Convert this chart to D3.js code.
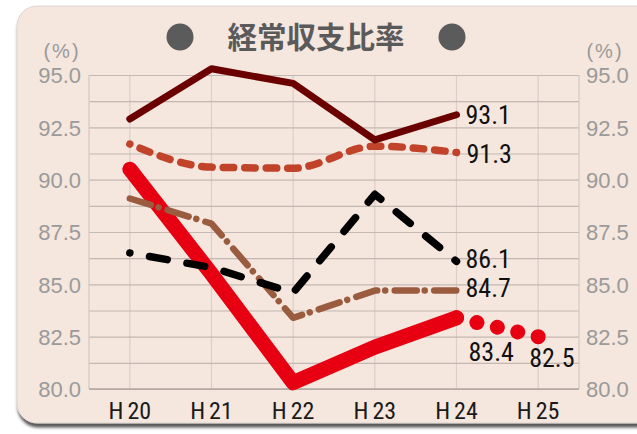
<!DOCTYPE html>
<html>
<head>
<meta charset="utf-8">
<script src="https://cdn.jsdelivr.net/npm/d3@7"></script>
<style>
  html, body { margin: 0; padding: 0; background: #ffffff; }
  svg { display: block; }
</style>
</head>
<body>
<svg id="chart" width="637" height="434"></svg>
<script>
// Fiscal years (Heisei) and the ratio series, in percent
const categories = ["H20", "H21", "H22", "H23", "H24", "H25"];
const yTickValues = [80, 82.5, 85, 87.5, 90, 92.5, 95];
const gridValues = [80, 81.25, 82.5, 83.75, 85, 86.25, 87.5, 88.75, 90, 91.25, 92.5, 93.75, 95];

const maroonValues = [92.9, 95.3, 94.6, 91.9, 93.1];
const orangeValues = [91.7, 90.6, 90.55, 91.6, 91.3];
const brownValues  = [89.1, 87.9, 83.4, 84.7, 84.7];
const blackValues  = [86.5, 85.8, 84.6, 89.3, 86.1];
const redValues    = [90.5, 85.5, 80.3, 82.0, 83.4];
const redForecastValues = [83.4, 82.5];          // H24 -> H25 (projection)
const redForecastCategories = ["H24", "H25"];

const titleText = "経常収支比率";
const unitText = "(%)";

const svg = d3.select("#chart");
const defs = svg.append("defs");

// soft shadow under the card
const shadow = defs.append("filter").attr("id", "cardShadow")
  .attr("x", "-5%").attr("y", "-5%").attr("width", "110%").attr("height", "115%");
shadow.append("feDropShadow")
  .attr("dx", 1).attr("dy", 4).attr("stdDeviation", 1.6)
  .attr("flood-color", "#3a3a3a").attr("flood-opacity", 0.85);

// card background
svg.append("rect")
  .attr("x", 17).attr("y", 6).attr("width", 640).attr("height", 417)
  .attr("rx", 20).attr("ry", 20)
  .attr("fill", "#f5e6de")
  .attr("stroke", "#dcd6d3").attr("stroke-width", 1)
  .attr("filter", "url(#cardShadow)");

// title with the two bullet dots
const title = svg.append("g");
title.append("text")
  .attr("x", 316).attr("y", 48)
  .attr("text-anchor", "middle")
  .attr("font-family", "'Noto Sans CJK JP', sans-serif")
  .attr("font-weight", 700)
  .attr("font-size", 29.5)
  .attr("fill", "#5a5a5a")
  .text(titleText);
[180, 452].forEach(px => title.append("circle")
  .attr("cx", px).attr("cy", 37).attr("r", 13.5).attr("fill", "#5b5b5b"));

// plot frame
const plotLeft = 89, plotRight = 579, plotTop = 75, plotBottom = 389;
const x = d3.scaleBand().domain(categories).range([plotLeft, plotRight]).padding(0);
const cx = c => x(c) + x.bandwidth() / 2;
const y = d3.scaleLinear().domain([80, 95]).range([plotBottom, plotTop]);

const plot = svg.append("g");

// vertical grid at each category
plot.append("g")
  .attr("transform", `translate(0,${plotBottom})`)
  .call(d3.axisBottom(x).tickSize(-(plotBottom - plotTop)).tickFormat(""))
  .call(g => g.select(".domain").remove())
  .call(g => g.selectAll(".tick line").attr("stroke", "#dccfc7").attr("stroke-width", 1.2));

// horizontal grid every 1.25 points
plot.append("g")
  .attr("transform", `translate(${plotLeft},0)`)
  .call(d3.axisLeft(y).tickValues(gridValues).tickSize(-(plotRight - plotLeft)).tickFormat(""))
  .call(g => g.select(".domain").remove())
  .call(g => g.selectAll(".tick line").attr("stroke", "#c4b8b2").attr("stroke-width", 1.2));

// plot edges
plot.append("line").attr("x1", plotLeft).attr("x2", plotLeft).attr("y1", plotTop).attr("y2", plotBottom)
  .attr("stroke", "#d4c8c1").attr("stroke-width", 1.2);
plot.append("line").attr("x1", plotRight).attr("x2", plotRight).attr("y1", plotTop).attr("y2", plotBottom)
  .attr("stroke", "#d4c8c1").attr("stroke-width", 1.2);
plot.append("line").attr("x1", plotLeft).attr("x2", plotRight).attr("y1", plotBottom).attr("y2", plotBottom)
  .attr("stroke", "#b0a6a1").attr("stroke-width", 1.4);

const tickFont = "'Liberation Sans', Arial, sans-serif";

// left value axis
svg.append("g")
  .attr("transform", `translate(${plotLeft},0)`)
  .call(d3.axisLeft(y).tickValues(yTickValues).tickFormat(d3.format(".1f")).tickSize(0).tickPadding(8))
  .call(g => g.select(".domain").remove())
  .call(g => g.selectAll("text")
    .attr("font-family", tickFont).attr("font-size", 22).attr("fill", "#9a9a9a").attr("dy", "0.36em"));

// right value axis
svg.append("g")
  .attr("transform", `translate(${plotRight},0)`)
  .call(d3.axisRight(y).tickValues(yTickValues).tickFormat(d3.format(".1f")).tickSize(0).tickPadding(7))
  .call(g => g.select(".domain").remove())
  .call(g => g.selectAll("text")
    .attr("font-family", tickFont).attr("font-size", 22).attr("fill", "#9a9a9a").attr("dy", "0.36em"));

// unit captions above both value axes
[62, 605].forEach(ux => svg.append("text")
  .attr("x", ux).attr("y", 58).attr("text-anchor", "middle")
  .attr("font-family", tickFont).attr("font-size", 20).attr("letter-spacing", 2)
  .attr("fill", "#9a9a9a")
  .text(unitText));

const labelFont = "'Liberation Sans Narrow', 'Arial Narrow', 'Roboto Condensed', sans-serif";

// category axis
svg.append("g")
  .attr("transform", `translate(0,${plotBottom})`)
  .call(d3.axisBottom(x).tickSize(0).tickPadding(0))
  .call(g => g.select(".domain").remove())
  .call(g => g.selectAll(".tick text").each(function (d) {
    const t = d3.select(this).text("")
      .attr("y", 30).attr("dy", 0)
      .attr("font-family", labelFont).attr("font-size", 24).attr("fill", "#1a1a1a");
    t.append("tspan").text(d.slice(0, 1));
    t.append("tspan").attr("dx", 4).text(d.slice(1));
  }));

// series lines
const line = d3.line().x((d, i) => cx(categories[i])).y(d => y(d));
const smooth = d3.line().x((d, i) => cx(categories[i])).y(d => y(d)).curve(d3.curveMonotoneX);

const lines = svg.append("g").attr("fill", "none")
  .attr("stroke-linecap", "round").attr("stroke-linejoin", "round");

// red: actual values
lines.append("path").datum(redValues)
  .attr("d", line).attr("stroke", "#e60012").attr("stroke-width", 15);

// red: projection drawn as a row of round dots
const forecastLine = d3.line().x((d, i) => cx(redForecastCategories[i])).y(d => y(d));
const fc = lines.append("path").datum(redForecastValues)
  .attr("d", forecastLine).attr("stroke", "#e60012").attr("stroke-width", 15);
const fcLen = fc.node().getTotalLength();
fc.attr("stroke-dasharray", `0.01 ${fcLen / 4 - 0.01}`);

// brown dash-dot
lines.append("path").datum(brownValues)
  .attr("d", line).attr("stroke", "#9a5b3f").attr("stroke-width", 6.5)
  .attr("stroke-dasharray", "22 8 0.01 9.5");

// black long dash, starting with a dot at the first point
lines.append("path").datum(blackValues)
  .attr("d", line).attr("stroke", "#000000").attr("stroke-width", 7.5)
  .attr("stroke-dasharray", "18 20").attr("stroke-dashoffset", 17.99);

// orange short dash (smoothed), also opening with a dot
lines.append("path").datum(orangeValues)
  .attr("d", smooth).attr("stroke", "#c0432a").attr("stroke-width", 7.5)
  .attr("stroke-dasharray", "10.5 11").attr("stroke-dashoffset", 10.49);

// maroon solid
lines.append("path").datum(maroonValues)
  .attr("d", line).attr("stroke", "#6b0000").attr("stroke-width", 7);

// end-of-line value labels
const fmt = d3.format(".1f");
const endLabels = [
  { cat: "H24", value: maroonValues[4], dx: 9, dy: 9 },
  { cat: "H24", value: orangeValues[4], dx: 10, dy: 11 },
  { cat: "H24", value: blackValues[4], dx: 9, dy: 7 },
  { cat: "H24", value: brownValues[4], dx: 9, dy: 6 },
  { cat: "H24", value: redValues[4], dx: 12, dy: 43 },
  { cat: "H25", value: redForecastValues[1], dx: -9, dy: 30 }
];
svg.append("g").selectAll("text").data(endLabels).join("text")
  .attr("x", d => cx(d.cat) + d.dx)
  .attr("y", d => y(d.value) + d.dy)
  .attr("font-family", labelFont).attr("font-size", 26).attr("fill", "#111111")
  .text(d => fmt(d.value));
</script>
</body>
</html>
